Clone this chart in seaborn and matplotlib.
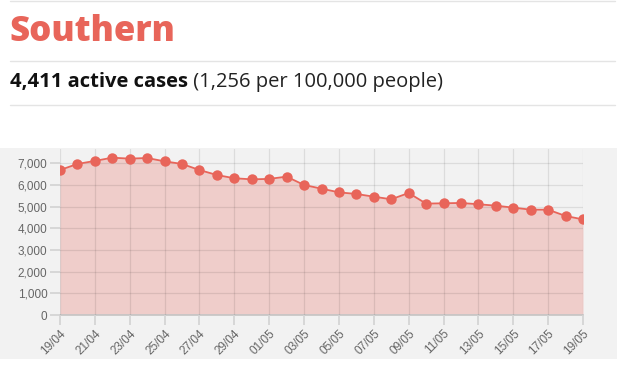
import matplotlib
matplotlib.use("Agg")
import matplotlib.pyplot as plt
import seaborn as sns
import pandas as pd
import numpy as np
from matplotlib.patches import Rectangle
from matplotlib.lines import Line2D

# ---- data ----
start_date = "2020-04-19"
active_cases = [6690, 6970, 7110, 7260, 7215, 7245, 7090, 6970, 6690, 6460,
                6310, 6260, 6280, 6385, 6000, 5830, 5660, 5585, 5460, 5340,
                5630, 5140, 5155, 5170, 5110, 5045, 4955, 4860, 4860, 4570,
                4411]
y_ticks = [0, 1000, 2000, 3000, 4000, 5000, 6000, 7000]
title = "Southern"
headline_bold = "4,411 active cases"
headline_rest = " (1,256 per 100,000 people)"

dates = pd.date_range(start_date, periods=len(active_cases), freq="D")
df = pd.DataFrame({"date": dates, "cases": active_cases})

LINE = "#e8655a"
W, H = 617, 367

sns.set_theme(style="white")
plt.rcParams["font.family"] = ["Liberation Sans", "DejaVu Sans"]

fig = plt.figure(figsize=(W / 100, H / 100), dpi=100)
fig.patch.set_facecolor("white")

def fy(py):
    return 1 - py / H

# gray chart background
bg = Rectangle((0, fy(359)), 1, fy(148) - fy(359), transform=fig.transFigure,
               facecolor="#f2f2f2", edgecolor="none", zorder=-10)
fig.add_artist(bg)
# separator lines
for py in (1, 61, 105):
    fig.add_artist(Line2D([10 / W, 615 / W], [fy(py), fy(py)], transform=fig.transFigure,
                          color="#e4e4e4", lw=1.0, zorder=-5))

HFONT = ["Open Sans", "DejaVu Sans"]
fig.text(9 / W, fy(32), title, color=LINE, fontsize=25, fontweight="heavy",
         family=HFONT, va="center", ha="left")
t1 = fig.text(10 / W, fy(82), headline_bold, color="#111111", fontsize=14.5, fontweight="bold",
              family=HFONT, va="center", ha="left")
fig.canvas.draw()
bb = t1.get_window_extent()
fig.text(bb.x1 / W, fy(82), headline_rest, color="#222222", fontsize=14.5,
         family=HFONT, va="center", ha="left")

ax = fig.add_axes([60 / W, fy(315), (583 - 60) / W, fy(149) - fy(315)])
ax.set_facecolor("none")
ax.set_zorder(1)

ax.fill_between(df["date"], 0, df["cases"], color=LINE, alpha=0.26, lw=0, zorder=1)
sns.lineplot(data=df, x="date", y="cases", ax=ax, color=LINE, lw=1.3, marker="o",
             markersize=7.5, markeredgewidth=0, zorder=3)

ax.set_xlim(dates[0], dates[-1])
ax.set_ylim(0, 7660)
ax.set_yticks(y_ticks)
ax.set_yticklabels([f"{v:,}" for v in y_ticks])
xt = dates[::2]
ax.set_xticks(xt)
ax.set_xticklabels([d.strftime("%d/%m") for d in xt], rotation=45, ha="right",
                   rotation_mode="anchor")
ax.grid(True, color="#000000", alpha=0.09, lw=0.9, zorder=2)
ax.set_axisbelow(False)
for s in ["top", "right", "left"]:
    ax.spines[s].set_visible(False)
ax.spines["bottom"].set_color("#c8c8c8")
ax.tick_params(axis="both", length=7, color="#d4d4d4", labelsize=8.5, labelcolor="#666666", pad=2,
               bottom=True, left=True)
ax.set_xlabel("")
ax.set_ylabel("")
if ax.get_legend():
    ax.get_legend().remove()

fig.savefig("out.png", dpi=100, facecolor="white")
